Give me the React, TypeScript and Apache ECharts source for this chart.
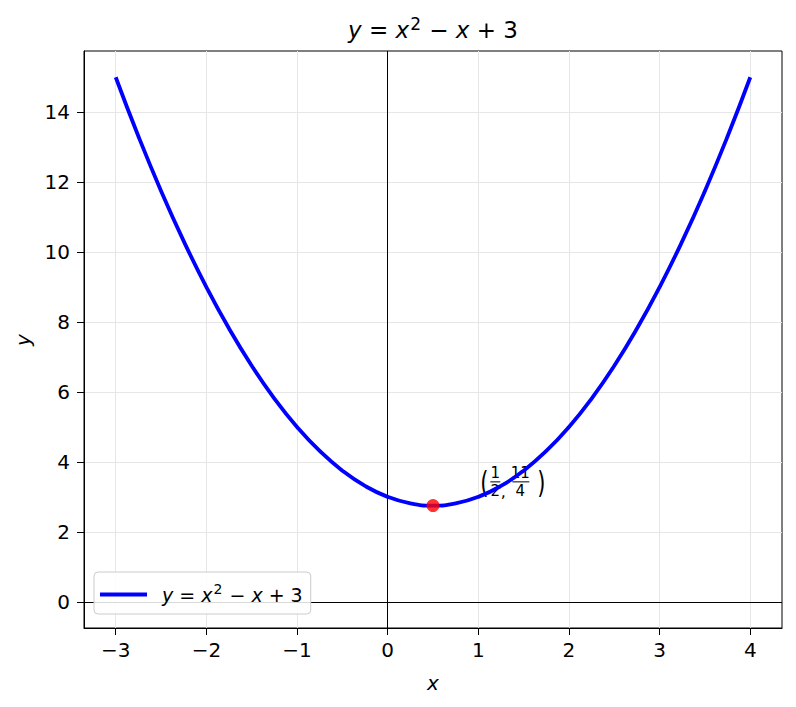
import { useEffect, useRef } from 'react';
import * as echarts from 'echarts';

const curveX = [-3, -2.75, -2.5, -2.25, -2, -1.75, -1.5, -1.25, -1, -0.75, -0.5, -0.25, 0, 0.25, 0.5, 0.75, 1, 1.25, 1.5, 1.75, 2, 2.25, 2.5, 2.75, 3, 3.25, 3.5, 3.75, 4];
const curveY = [15, 13.3125, 11.75, 10.3125, 9, 7.8125, 6.75, 5.8125, 5, 4.3125, 3.75, 3.3125, 3, 2.8125, 2.75, 2.8125, 3, 3.3125, 3.75, 4.3125, 5, 5.8125, 6.75, 7.8125, 9, 10.3125, 11.75, 13.3125, 15];
const vertexX = [0.5];
const vertexY = [2.75];
const xTicks = [-3, -2, -1, 0, 1, 2, 3, 4];
const yTicks = [0, 2, 4, 6, 8, 10, 12, 14];
const xRange = [-3.35, 4.35];
const yRange = [-0.75, 15.75];
const annotationAt = [1, 3];

const FONT = 'DejaVu Sans';
const fmt = (v: number) => (v < 0 ? '\u2212' + Math.abs(v) : String(v));

const mathRich = (size: number) => {
  const sup = Math.round(size * 0.72);
  return {
    i: { fontFamily: FONT, fontStyle: 'italic', fontSize: size, lineHeight: Math.round(size * 1.3), verticalAlign: 'middle', color: '#000' },
    n: { fontFamily: FONT, fontSize: size, lineHeight: Math.round(size * 1.3), verticalAlign: 'middle', color: '#000' },
    s: { fontFamily: FONT, fontSize: sup, lineHeight: sup, verticalAlign: 'top', padding: [0, 1, 0, 1], color: '#000' },
  };
};
const mathText = '{i|y}{n| = }{i|x}{s|2}{n| \u2212 }{i|x}{n| + 3}';

export default function App() {
  const ref = useRef<HTMLDivElement>(null);
  useEffect(() => {
    const chart = echarts.init(ref.current!, null, { renderer: 'svg' });
    const data = curveX.map((x, i) => [x, curveY[i]]);
    const vertex = vertexX.map((x, i) => [x, vertexY[i]]);
    chart.setOption({
      animation: false,
      backgroundColor: '#fff',
      grid: { left: 84, top: 51, right: 14, bottom: 79, show: true, borderColor: '#000', borderWidth: 1, backgroundColor: 'transparent' },
      xAxis: {
        type: 'value', min: xRange[0], max: xRange[1],
        axisLine: { show: true, onZero: false, lineStyle: { color: '#000', width: 1 } },
        axisTick: { show: true, customValues: xTicks, length: 7, lineStyle: { color: '#000' } },
        axisLabel: { customValues: xTicks, formatter: fmt, color: '#000', fontFamily: FONT, fontSize: 20, margin: 12 },
        splitLine: { show: true, lineStyle: { color: '#e6e6e6', width: 1 } },
      },
      yAxis: {
        type: 'value', min: yRange[0], max: yRange[1],
        axisLine: { show: true, onZero: false, lineStyle: { color: '#000', width: 1 } },
        axisTick: { show: true, customValues: yTicks, length: 7, lineStyle: { color: '#000' } },
        axisLabel: { customValues: yTicks, formatter: fmt, color: '#000', fontFamily: FONT, fontSize: 20, margin: 14 },
        splitLine: { show: true, lineStyle: { color: '#e6e6e6', width: 1 } },
      },
      legend: {
        data: ['curve'],
        left: 94, top: 572,
        padding: [10, 8, 10, 6],
        icon: 'rect', itemWidth: 47, itemHeight: 4,
        borderColor: '#cccccc', borderWidth: 1, borderRadius: 4,
        backgroundColor: 'rgba(255,255,255,0.85)',
        formatter: () => mathText,
        textStyle: { padding: [0, 0, 0, 10], rich: mathRich(19) },
      },
      series: [
        {
          name: 'curve', type: 'line', data, smooth: true, showSymbol: false,
          lineStyle: { color: '#0000ff', width: 3.8 }, itemStyle: { color: '#0000ff' },
          z: 3,
          markLine: {
            silent: true, symbol: 'none', label: { show: false },
            lineStyle: { color: '#000', width: 1, type: 'solid' },
            data: [{ xAxis: 0 }, { yAxis: 0 }],
            z: 2,
          },
        },
        {
          name: 'vertex', type: 'scatter', data: vertex, symbolSize: 13,
          itemStyle: { color: '#ff0000' }, z: 5,
        },
      ],
    });
    const p = chart.convertToPixel({ gridIndex: 0 }, annotationAt) as number[];
    const t = (text: string, x: number, y: number, size: number, sx = 1) => ({
      type: 'text', x, y, scaleX: sx,
      style: { text, x: 0, y: 0, align: 'center', verticalAlign: 'middle', fontFamily: FONT, fontSize: size, fill: '#000' },
    });
    const l = (x1: number, x2: number, y: number) => ({
      type: 'line', shape: { x1, y1: y, x2, y2: y }, style: { stroke: '#000', lineWidth: 1 },
    });
    chart.setOption({
      graphic: [
        {
          type: 'text', x: 433, y: 30,
          style: { text: mathText, rich: mathRich(23), fill: '#000', align: 'center', verticalAlign: 'middle' },
        },
        {
          type: 'text', x: 433, y: 683,
          style: { text: 'x', fontFamily: FONT, fontStyle: 'italic', fontSize: 20, fill: '#000', align: 'center', verticalAlign: 'middle' },
        },
        {
          type: 'text', x: 23, y: 340, rotation: Math.PI / 2,
          style: { text: 'y', fontFamily: FONT, fontStyle: 'italic', fontSize: 20, fill: '#000', align: 'center', verticalAlign: 'middle' },
        },
        {
          type: 'group', x: p[0], y: p[1], z: 10,
          children: [
            t('(', 6, -14, 30, 0.7),
            t('1', 17, -24, 15), l(12, 22, -15), t('2', 17, -6, 15),
            t(',', 25, -5, 16),
            t('11', 42, -24, 15), l(34, 51, -15), t('4', 42, -6, 15),
            t(')', 63, -14, 30, 0.7),
          ],
        },
      ],
    });
    return () => chart.dispose();
  }, []);
  return <div ref={ref} style={{ width: 796, height: 707, position: 'absolute', left: 0, top: 0 }} />;
}
